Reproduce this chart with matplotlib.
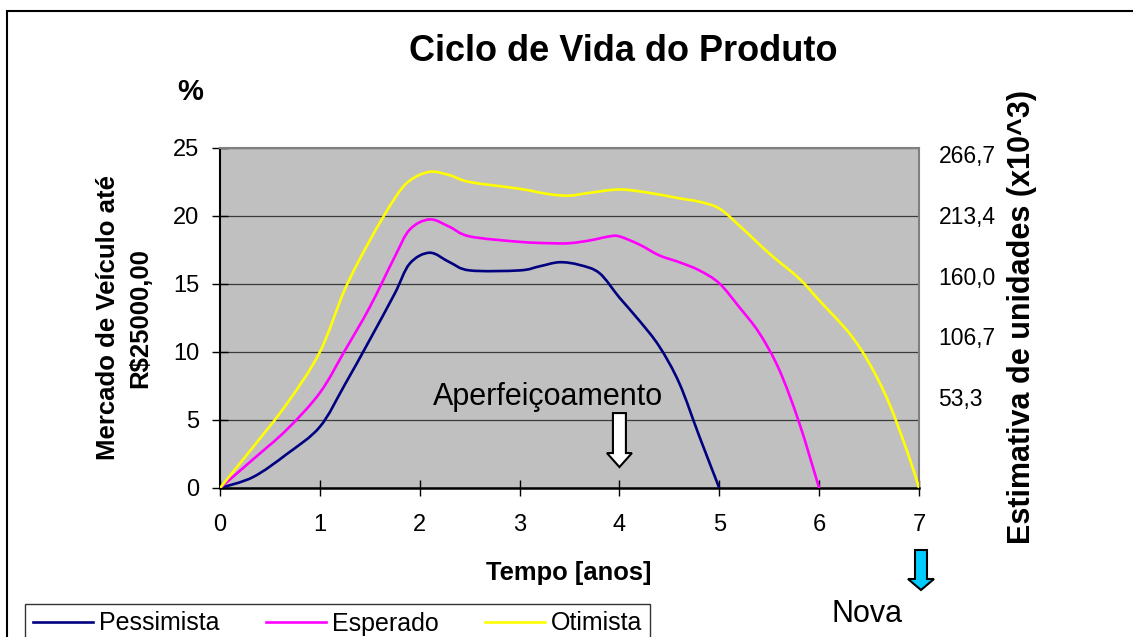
import matplotlib
matplotlib.use("Agg")
import matplotlib.pyplot as plt
import numpy as np
from matplotlib.patches import FancyArrow, Rectangle, PathPatch
from matplotlib.path import Path
from matplotlib.lines import Line2D

plt.rcParams['font.family'] = ['Liberation Sans', 'DejaVu Sans']

# data
x_pess = [0, 0.33, 0.67, 1.0, 1.25, 1.5, 1.75, 1.9, 2.1, 2.3, 2.5, 3.0, 3.2,
          3.4, 3.6, 3.8, 4.0, 4.2, 4.4, 4.6, 4.8, 5.0]
y_pess = [0, 0.8, 2.5, 4.5, 7.6, 10.9, 14.3, 16.5, 17.3, 16.6, 16.0, 16.0, 16.3,
          16.6, 16.4, 15.8, 14.0, 12.3, 10.4, 7.7, 3.8, 0]

x_esp = [0, 0.33, 0.67, 1.0, 1.25, 1.5, 1.75, 1.9, 2.1, 2.3, 2.5, 3.0, 3.3,
         3.5, 3.7, 3.9, 4.0, 4.2, 4.4, 4.6, 4.8, 5.0, 5.2, 5.4, 5.6, 5.8, 6.0]
y_esp = [0, 2.1, 4.3, 7.0, 10.1, 13.3, 17.0, 19.0, 19.75, 19.2, 18.5, 18.1, 18.0,
         18.0, 18.2, 18.5, 18.5, 17.9, 17.1, 16.6, 16.0, 15.05, 13.3, 11.4, 8.7, 4.8, 0]

x_oti = [0, 0.33, 0.67, 1.0, 1.25, 1.5, 1.75, 1.9, 2.1, 2.3, 2.5, 3.0, 3.3, 3.5,
         3.7, 4.0, 4.3, 4.6, 4.8, 5.0, 5.2, 5.5, 5.8, 6.0, 6.3, 6.5, 6.7, 6.9, 7.0]
y_oti = [0, 3.0, 6.2, 10.0, 14.6, 18.2, 21.3, 22.6, 23.25, 23.0, 22.5, 22.0, 21.6, 21.5,
         21.7, 21.95, 21.7, 21.3, 21.05, 20.55, 19.3, 17.25, 15.4, 13.8, 11.4, 9.2, 6.25, 2.3, 0]

series_names = ['Pessimista', 'Esperado', 'Otimista']
series_colors = ['#000080', '#FF00FF', '#FFFF00']

right_ticks = [53.3, 106.7, 160.0, 213.4, 266.7]
right_labels = ['53,3', '106,7', '160,0', '213,4', '266,7']

W, H = 1133, 637
fig = plt.figure(figsize=(W / 100, H / 100), dpi=100)

def fx(px):
    return px / W

def fy(py):
    return 1 - py / H

def smooth_path(xs, ys):
    # Excel-like smoothed line: Catmull-Rom segments drawn as cubic Beziers
    p = np.column_stack([xs, ys]).astype(float)
    verts = [p[0]]
    codes = [Path.MOVETO]
    n = len(p)
    for i in range(n - 1):
        p0 = p[i - 1] if i > 0 else p[i]
        p3 = p[i + 2] if i + 2 < n else p[i + 1]
        c1 = p[i] + (p[i + 1] - p0) / 6
        c2 = p[i + 1] - (p3 - p[i]) / 6
        verts += [c1, c2, p[i + 1]]
        codes += [Path.CURVE4] * 3
    return Path(verts, codes)

ax = fig.add_axes([fx(220), fy(488), (919 - 220) / W, (488 - 148) / H])
ax.set_facecolor('#C0C0C0')

handles = []
for xs, ys, name, c in zip([x_pess, x_esp, x_oti], [y_pess, y_esp, y_oti],
                           series_names, series_colors):
    ax.add_patch(PathPatch(smooth_path(xs, ys), fill=False, ec=c, lw=1.9,
                           zorder=3, capstyle='round', joinstyle='round'))
    handles.append(Line2D([], [], color=c, lw=1.9, label=name))

ax.set_xlim(0, 7)
ax.set_ylim(0, 25)
ax.set_xticks(range(0, 8))
ax.set_yticks(range(0, 26, 5))
ax.yaxis.grid(True, color='#3a3a3a', lw=0.9)
ax.set_axisbelow(True)
ax.tick_params(axis='both', direction='inout', length=12, width=1, labelsize=17)
ax.tick_params(axis='x', pad=13)
ax.tick_params(axis='y', pad=9)
ax.spines['left'].set_linewidth(1.5)
ax.spines['bottom'].set_linewidth(1.8)
for s in ['top', 'right']:
    ax.spines[s].set_color('#808080')
    ax.spines[s].set_linewidth(1.5)

# secondary scale on the right
ax2 = ax.twinx()
ax2.set_ylim(-26.6, 272.0)
ax2.set_yticks(right_ticks)
ax2.set_yticklabels(right_labels)
ax2.tick_params(axis='y', length=0, labelsize=16.5, pad=14)
for s in ax2.spines.values():
    s.set_visible(False)

# annotation inside the plot
ax.text(2.133, 6.1, 'Aperfeiçoamento', fontsize=22, ha='left', va='baseline', zorder=4)
ax.add_patch(FancyArrow(4.0, 5.51, 0, -3.97, width=0.13, head_width=0.25,
                        head_length=1.03, length_includes_head=True,
                        fc='white', ec='black', lw=1.5, zorder=4))

# titles and labels
fig.text(fx(623), fy(61), 'Ciclo de Vida do Produto', fontsize=26, fontweight='bold',
         ha='center', va='baseline')
fig.text(fx(190), fy(100), '%', fontsize=21, fontweight='bold', ha='center', va='baseline')
fig.text(fx(124), fy(318), 'Mercado de Veículo até\nR$25000,00', fontsize=18.5,
         fontweight='bold', rotation=90, ha='center', va='center',
         multialignment='center', linespacing=1.45)
fig.text(fx(1022), fy(317), 'Estimativa de unidades (x10^3)', fontsize=22,
         fontweight='bold', rotation=90, ha='center', va='center')
fig.text(fx(569), fy(573), 'Tempo [anos]', fontsize=18.4, fontweight='bold',
         ha='center', va='center')

# "Nova" marker below the axis
fig.text(fx(832), fy(622), 'Nova', fontsize=22, ha='left', va='baseline')
fig.patches.append(FancyArrow(fx(921), fy(550), 0, -40 / H, width=12 / W,
                              head_width=26 / W, head_length=11 / H,
                              length_includes_head=True, fc='#00CCFF', ec='black',
                              lw=1.5, transform=fig.transFigure, figure=fig))

# outer frame
fig.patches.append(Rectangle((fx(7), -0.2), 1.2, fy(11) + 0.2, fill=False, ec='black',
                             lw=1.5, transform=fig.transFigure, figure=fig))

leg = fig.legend(handles=handles, loc='upper left', bbox_to_anchor=(fx(25), fy(604)),
                 ncol=3, fontsize=18, frameon=True, fancybox=False, edgecolor='black',
                 handlelength=2.4, handletextpad=0.25, columnspacing=1.85,
                 borderpad=0.3, borderaxespad=0)
leg.get_frame().set_linewidth(1.0)

fig.savefig('out.png', dpi=100)
